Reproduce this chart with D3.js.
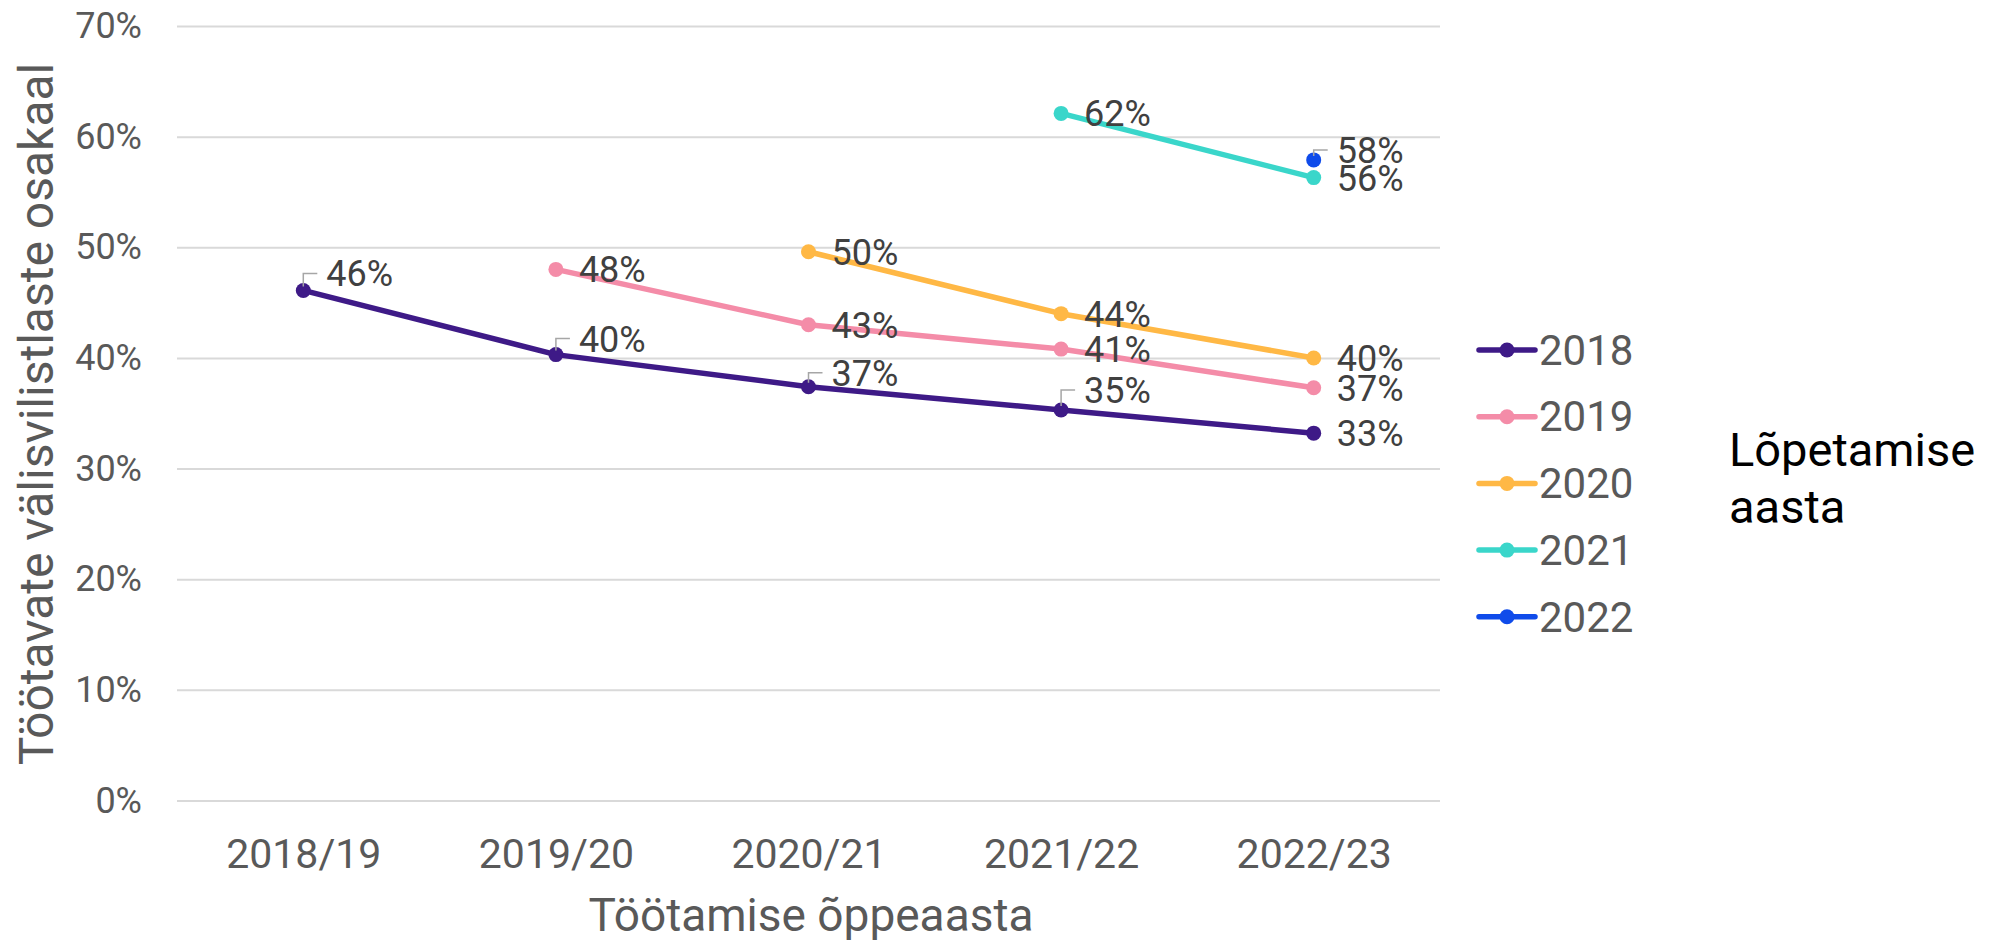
<!DOCTYPE html>
<html>
<head>
<meta charset="utf-8">
<script src="https://cdn.jsdelivr.net/npm/d3@7"></script>
<style>
  body { margin: 0; background: #fff; }
  text { font-family: Roboto, "Noto Sans", sans-serif; }
</style>
</head>
<body>
<svg id="chart"></svg>
<script>
// data
var categories = ["2018/19", "2019/20", "2020/21", "2021/22", "2022/23"];
var cohorts = ["2018", "2019", "2020", "2021", "2022"];
var values2018 = [0.461, 0.403, 0.374, 0.353, 0.332];
var values2019 = [null, 0.480, 0.430, 0.408, 0.373];
var values2020 = [null, null, 0.496, 0.440, 0.400];
var values2021 = [null, null, null, 0.621, 0.563];
var values2022 = [null, null, null, null, 0.579];
var yTicks = [0, 0.1, 0.2, 0.3, 0.4, 0.5, 0.6, 0.7];

var seriesValues = [values2018, values2019, values2020, values2021, values2022];
var colors = ["#3e1a87", "#f48ca8", "#ffb845", "#3ad6ca", "#0f4bea"];
// labels pulled up with a little leader line (px up from the point)
var leaders = {
  "2018": [-17, -16, -14, -20, null],
  "2022": [null, null, null, null, -10]
};

var W = 1997, H = 942;
var plotLeft = 177, plotRight = 1440, plotTop = 26, plotBottom = 800.5;

var svg = d3.select("#chart").attr("width", W).attr("height", H);
svg.append("rect").attr("width", W).attr("height", H).attr("fill", "#fff");

var x = d3.scalePoint().domain(categories).range([plotLeft, plotRight]).padding(0.5);
var y = d3.scaleLinear().domain([0, 0.7]).range([plotBottom, plotTop]);

var yAxis = d3.axisLeft(y).tickValues(yTicks).tickSize(-(plotRight - plotLeft)).tickPadding(35).tickFormat(d3.format(".0%"));
var gy = svg.append("g").attr("transform", "translate(" + plotLeft + ",0)").call(yAxis);
gy.select(".domain").remove();
gy.selectAll(".tick line").attr("stroke", "#d9d9d9").attr("stroke-width", 2);
gy.selectAll(".tick text").attr("fill", "#595959").style("font-size", "36px").style("font-family", "Roboto");

var xAxis = d3.axisBottom(x).tickSize(0).tickPadding(38);
var gx = svg.append("g").attr("transform", "translate(0," + plotBottom + ")").call(xAxis);
gx.select(".domain").remove();
gx.selectAll(".tick text").attr("fill", "#595959").style("font-size", "41px").style("font-family", "Roboto");

// axis titles
svg.append("text")
  .attr("transform", "rotate(-90)")
  .attr("x", -414).attr("y", 53)
  .attr("text-anchor", "middle")
  .attr("fill", "#595959")
  .style("font-size", "48px")
  .text("Töötavate välisvilistlaste osakaal");

svg.append("text")
  .attr("x", 811).attr("y", 931)
  .attr("text-anchor", "middle")
  .attr("fill", "#595959")
  .style("font-size", "46px")
  .text("Töötamise õppeaasta");

var line = d3.line()
  .defined(function (d) { return d.v != null; })
  .x(function (d) { return x(d.cat); })
  .y(function (d) { return y(d.v); });

var series = cohorts.map(function (c, i) {
  return {
    name: c,
    color: colors[i],
    points: categories.map(function (cat, j) { return {cat: cat, v: seriesValues[i][j], idx: j}; })
  };
});

var gSeries = svg.append("g").selectAll("g").data(series).join("g");
gSeries.append("path")
  .attr("d", function (s) { return line(s.points); })
  .attr("fill", "none")
  .attr("stroke", function (s) { return s.color; })
  .attr("stroke-width", 5.5)
  .attr("stroke-linejoin", "round");
gSeries.selectAll("circle")
  .data(function (s) { return s.points.filter(function (p) { return p.v != null; }).map(function (p) { p.color = s.color; return p; }); })
  .join("circle")
  .attr("cx", function (d) { return x(d.cat); })
  .attr("cy", function (d) { return y(d.v); })
  .attr("r", 7.5)
  .attr("fill", function (d) { return d.color; });

// data labels
var fmt = d3.format(".0%");
var gLabels = svg.append("g");
series.forEach(function (s) {
  s.points.forEach(function (p) {
    if (p.v == null) return;
    var px = x(p.cat), py = y(p.v);
    var off = leaders[s.name] ? leaders[s.name][p.idx] : null;
    var ly = py;
    if (off != null) {
      ly = py + off;
      gLabels.append("path")
        .attr("d", "M" + px + "," + (py - 4) + "V" + ly + "H" + (px + 14))
        .attr("fill", "none")
        .attr("stroke", "#a6a6a6")
        .attr("stroke-width", 1.5);
    }
    gLabels.append("text")
      .attr("x", px + 23).attr("y", ly)
      .attr("dy", "0.36em")
      .attr("fill", "#404040")
      .style("font-size", "36px")
      .text(fmt(p.v));
  });
});

// legend
var legend = svg.append("g").attr("transform", "translate(1479,350)");
var items = legend.selectAll("g").data(series).join("g")
  .attr("transform", function (d, i) { return "translate(0," + (i * 66.7) + ")"; });
items.append("line")
  .attr("x1", 0).attr("x2", 56)
  .attr("stroke", function (d) { return d.color; })
  .attr("stroke-width", 5.5)
  .attr("stroke-linecap", "round");
items.append("circle").attr("cx", 28).attr("r", 7.5).attr("fill", function (d) { return d.color; });
items.append("text")
  .attr("x", 60).attr("dy", "0.35em")
  .attr("fill", "#595959")
  .style("font-size", "42px")
  .text(function (d) { return d.name; });

var title = svg.append("text")
  .attr("x", 1729).attr("y", 466)
  .attr("fill", "#000")
  .style("font-size", "47px");
title.append("tspan").attr("x", 1729).text("Lõpetamise");
title.append("tspan").attr("x", 1729).attr("dy", 57).text("aasta");
</script>
</body>
</html>
